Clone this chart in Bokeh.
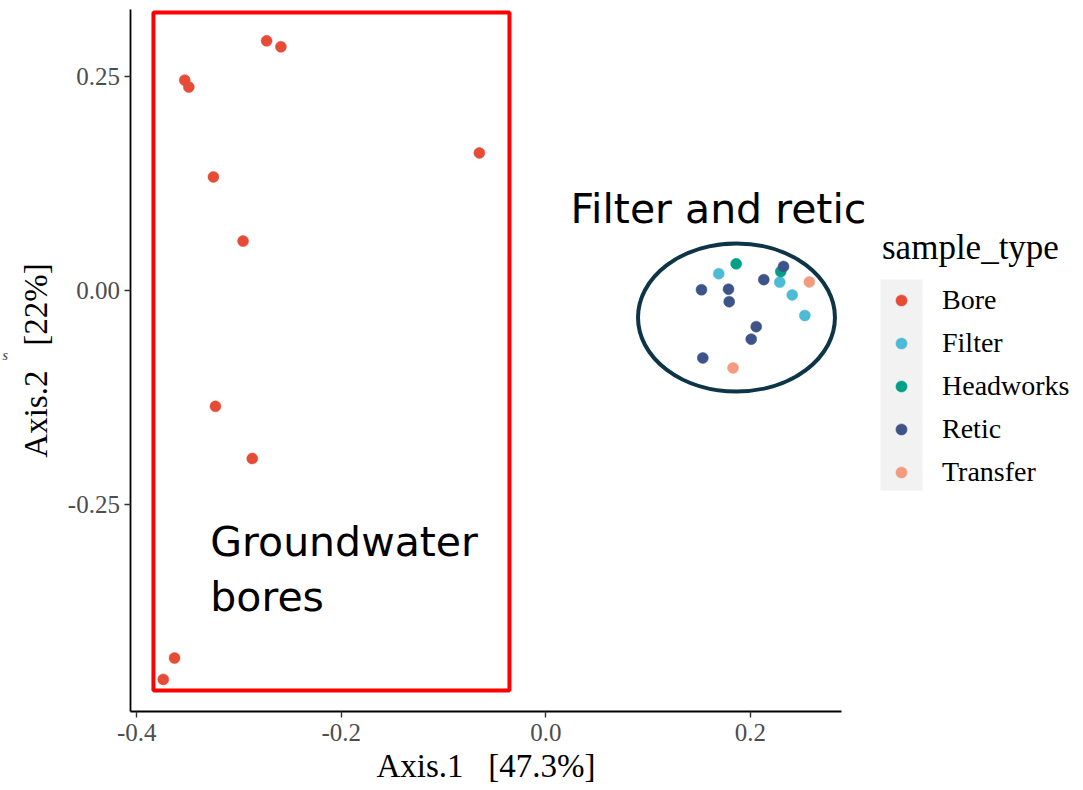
from bokeh.plotting import figure
from bokeh.models import Range1d, FixedTicker, Legend, LegendItem, BoxAnnotation, Label
from bokeh.embed import file_html
from bokeh.resources import INLINE

# ---------------- data ----------------
groups = ["Bore", "Filter", "Headworks", "Retic", "Transfer"]
colors = ["#E64B35", "#4DBBD5", "#00A087", "#3C5488", "#F39B7F"]

bore_x = [-0.273, -0.259, -0.353, -0.349, -0.065, -0.325, -0.296, -0.323, -0.287, -0.363, -0.374]
bore_y = [0.292, 0.285, 0.246, 0.238, 0.161, 0.133, 0.058, -0.135, -0.196, -0.429, -0.454]

filter_x = [0.169, 0.2286, 0.2408, 0.2531]
filter_y = [0.0199, 0.0100, -0.0049, -0.0289]

headworks_x = [0.186, 0.2296]
headworks_y = [0.0315, 0.0225]

retic_x = [0.2323, 0.2130, 0.1521, 0.1785, 0.1792, 0.2056, 0.2007, 0.1534]
retic_y = [0.0284, 0.0130, 0.0012, 0.0018, -0.0128, -0.0419, -0.0565, -0.0785]

transfer_x = [0.2575, 0.1829]
transfer_y = [0.0103, -0.0902]

series_x = [bore_x, filter_x, headworks_x, retic_x, transfer_x]
series_y = [bore_y, filter_y, headworks_y, retic_y, transfer_y]

x_ticks = [-0.4, -0.2, 0.0, 0.2]
x_tick_labels = ["-0.4", "-0.2", "0.0", "0.2"]
y_ticks = [-0.25, 0.0, 0.25]
y_tick_labels = ["-0.25", "0.00", "0.25"]

NB = "\u00a0"
x_title = "Axis.1" + NB * 3 + "[47.3%]"
y_title = "Axis.2" + NB * 3 + "[22%]"
legend_title = "sample_type"

# axis extents (data coordinates, ggplot-style 5% expansion)
x_axis_lo, x_axis_hi = -0.4056, 0.289
y_axis_lo, y_axis_hi = -0.4915, 0.329

# annotation shapes (data coordinates)
box_left, box_right, box_top, box_bottom = -0.3836, -0.0356, 0.3251, -0.4669
ell_x, ell_y, ell_w, ell_h = 0.1863, -0.0312, 0.1925, 0.1730

SERIF = "Liberation Serif"
SANS = "DejaVu Sans"

W, H = 1083, 790
p = figure(width=W, height=H,
           x_range=Range1d(-0.5331, 0.5255), y_range=Range1d(-0.5838, 0.3391),
           output_backend="svg", toolbar_location=None,
           min_border=0)
p.outline_line_color = None
p.xgrid.visible = False
p.ygrid.visible = False
p.background_fill_color = "white"
p.border_fill_color = "white"

p.xaxis.fixed_location = y_axis_lo
p.yaxis.fixed_location = x_axis_lo
p.xaxis.bounds = (x_axis_lo, x_axis_hi)
p.yaxis.bounds = (y_axis_lo, y_axis_hi)

for ax, ticks, labels in ((p.xaxis[0], x_ticks, x_tick_labels), (p.yaxis[0], y_ticks, y_tick_labels)):
    ax.ticker = FixedTicker(ticks=ticks)
    ax.major_label_overrides = {t: l for t, l in zip(ticks, labels)}
    ax.axis_line_color = "black"
    ax.axis_line_width = 1.8
    ax.major_tick_line_color = "#333333"
    ax.major_tick_line_width = 1.4
    ax.major_tick_out = 6
    ax.major_tick_in = 0
    ax.minor_tick_line_color = None
    ax.major_label_text_font = SERIF
    ax.major_label_text_font_size = "25px"
    ax.major_label_text_color = "#4D4D4D"
    ax.axis_label_text_font = SERIF
    ax.axis_label_text_font_size = "33px"
    ax.axis_label_text_font_style = "normal"
    ax.axis_label_text_color = "black"

p.xaxis.axis_label = x_title
p.yaxis.axis_label = y_title
p.xaxis.major_label_standoff = 7
p.xaxis.axis_label_standoff = 3
p.yaxis.major_label_standoff = 5
p.yaxis.axis_label_standoff = 10

# red rectangle
p.add_layout(BoxAnnotation(left=box_left, right=box_right, top=box_top, bottom=box_bottom,
                           fill_alpha=0, line_color="#FF0000", line_alpha=1, line_width=4))

# ellipse
p.ellipse(x=[ell_x], y=[ell_y], width=[ell_w], height=[ell_h],
          fill_alpha=0, line_color="#0E3547", line_width=4)

renderers = []
for g, c, xs, ys in zip(groups, colors, series_x, series_y):
    r = p.scatter(x=xs, y=ys, size=11, fill_color=c, line_color=c, line_width=0.5)
    renderers.append(r)

# legend key background (screen units, y from bottom)
p.add_layout(BoxAnnotation(left=880, right=922, top=H - 279, bottom=H - 490,
                           left_units="screen", right_units="screen",
                           top_units="screen", bottom_units="screen",
                           fill_color="#F2F2F2", fill_alpha=1, line_color=None, level="underlay"))

legend = Legend(items=[LegendItem(label=g, renderers=[r]) for g, r in zip(groups, renderers)],
                location=(882, H - 488), title=legend_title,
                glyph_width=38, glyph_height=28, label_height=32, spacing=11, label_standoff=22,
                padding=0, margin=0, border_line_color=None, background_fill_alpha=0,
                label_text_font=SERIF, label_text_font_size="28px", label_text_color="black",
                title_text_font=SERIF, title_text_font_size="35px", title_text_font_style="normal",
                title_text_color="black", title_standoff=16)
p.add_layout(legend, "center")

# text annotations
p.add_layout(Label(x=0.024, y=0.096, text="Filter and retic", text_font=SANS,
                   text_font_size="41px", text_color="black", text_baseline="alphabetic"))
p.add_layout(Label(x=-0.328, y=-0.294, text="Groundwater", text_font=SANS,
                   text_font_size="41px", text_color="black", text_baseline="alphabetic"))
p.add_layout(Label(x=-0.328, y=-0.358, text="bores", text_font=SANS,
                   text_font_size="41px", text_color="black", text_baseline="alphabetic"))
p.add_layout(Label(x=2, y=H - 355, x_units="screen", y_units="screen", text="s",
                   text_font=SERIF, text_font_size="14px", text_font_style="italic",
                   text_color="#333333", text_baseline="alphabetic"))

open("out.html", "w").write(file_html(p, INLINE))
